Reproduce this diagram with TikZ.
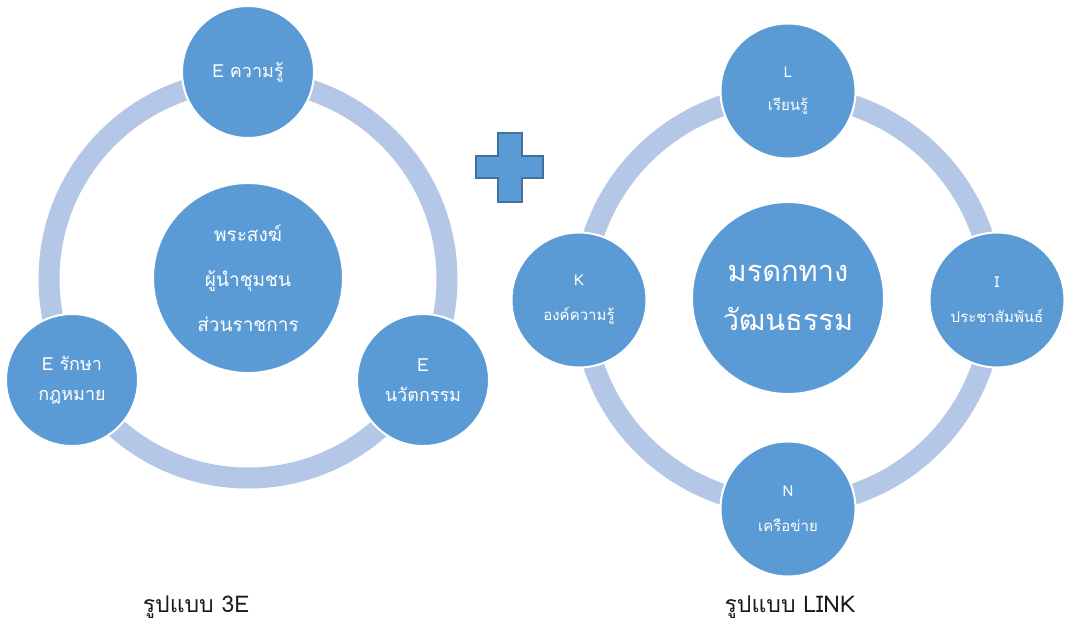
\documentclass[tikz,border=0pt]{standalone}
\usepackage{fontspec}
\newfontfamily\thai[Script=Thai]{Loma}
\definecolor{nodeblue}{HTML}{5B9BD5}
\definecolor{ringblue}{HTML}{B4C7E7}
\definecolor{plusedge}{HTML}{41719C}
\definecolor{labelgray}{HTML}{1A1A1A}
\begin{document}
\begin{tikzpicture}[x=1pt,y=-1pt,
  bub/.style={circle, fill=nodeblue, draw=white, line width=2pt,
    minimum size=#1, inner sep=0pt, text=white, align=center},
  ring/.style={draw=ringblue, line width=21pt},
  plusshape/.style={fill=nodeblue, draw=plusedge, line width=2.5pt, line join=miter},
  caption/.style={text=labelgray, font=\thai\fontsize{23}{27}\selectfont}]
\useasboundingbox (0,0) rectangle (1067,627);
\fill[white] (0,0) rectangle (1067,627);
% rings
\draw[ring] (248,279) circle[radius=199pt];
\draw[ring] (788,300) circle[radius=205pt];
% left diagram (3E)
\node[bub=132pt, font=\thai\fontsize{18}{30}\selectfont] (ek) at (248,72) {E ความรู้};
\node[bub=132pt, font=\thai\fontsize{18}{30}\selectfont] (el) at (72,380) {E รักษา\\กฎหมาย};
\node[bub=132pt, font=\thai\fontsize{18}{30}\selectfont] (ei) at (423,380) {E\\นวัตกรรม};
\node[bub=190pt, font=\thai\fontsize{19}{45}\selectfont] (ec) at (248,278) {พระสงฆ์\\ผู้นำชุมชน\\ส่วนราชการ};
% right diagram (LINK)
\node[bub=135pt, font=\thai\fontsize{15}{33}\selectfont] (ll) at (788,91) {L\\เรียนรู้};
\node[bub=135pt, font=\thai\fontsize{15}{35}\selectfont] (lk) at (579,300) {K\\องค์ความรู้};
\node[bub=135pt, font=\thai\fontsize{15}{35}\selectfont] (li) at (997,300) {I\\ประชาสัมพันธ์};
\node[bub=135pt, font=\thai\fontsize{15}{35}\selectfont] (ln) at (788,509) {N\\เครือข่าย};
\node[bub=192pt, font=\thai\fontsize{29}{49}\selectfont] (lc) at (788,298) {มรดกทาง\\วัฒนธรรม};
% plus sign
\draw[plusshape] (498,133) -- (522,133) -- (522,156) -- (543,156) -- (543,178) -- (522,178)
  -- (522,202) -- (498,202) -- (498,178) -- (476,178) -- (476,156) -- (498,156) -- cycle;
% captions
\node[caption] (cap1) at (196,607) {รูปแบบ 3E};
\node[caption] (cap2) at (790,607) {รูปแบบ LINK};
\end{tikzpicture}
\end{document}
